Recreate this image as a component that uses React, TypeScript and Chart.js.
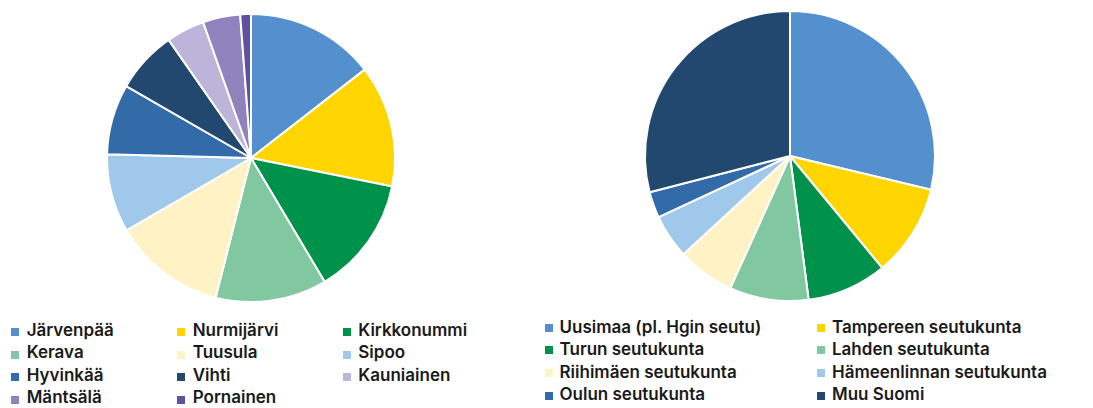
import React, { useEffect, useRef } from "react";
import { Chart, registerables } from "chart.js";

Chart.register(...registerables);

const leftLabels = ["Järvenpää", "Nurmijärvi", "Kirkkonummi", "Kerava", "Tuusula", "Sipoo", "Hyvinkää", "Vihti", "Kauniainen", "Mäntsälä", "Pornainen"];
const leftValues = [14.5, 13.7, 13.3, 12.5, 12.7, 8.8, 7.9, 7.0, 4.3, 4.2, 1.2];
const leftColors = ["#5490CD", "#FFD500", "#00924A", "#81C8A0", "#FFF3C6", "#9FC8EA", "#326BA8", "#22486F", "#BCB4D9", "#8E83BD", "#5E519F"];

const rightLabels = ["Uusimaa (pl. Hgin seutu)", "Tampereen seutukunta", "Turun seutukunta", "Lahden seutukunta", "Riihimäen seutukunta", "Hämeenlinnan seutukunta", "Oulun seutukunta", "Muu Suomi"];
const rightValues = [28.7, 10.3, 8.9, 8.8, 6.4, 4.9, 2.9, 29.0];
const rightColors = ["#5490CD", "#FFD500", "#00924A", "#81C8A0", "#FFF3C6", "#9FC8EA", "#326BA8", "#22486F"];

const FONT = "Inter, 'Noto Sans', sans-serif";

function Pie({ labels, values, colors, left, top, size, radius }: any) {
  const ref = useRef<HTMLCanvasElement>(null);
  useEffect(() => {
    const chart = new Chart(ref.current!, {
      type: "pie",
      data: {
        labels,
        datasets: [
          {
            data: values,
            backgroundColor: colors,
            borderColor: "#ffffff",
            borderWidth: 2,
            radius,
          } as any,
        ],
      },
      options: {
        animation: false,
        responsive: false,
        maintainAspectRatio: false,
        layout: { padding: 0 },
        plugins: { legend: { display: false }, tooltip: { enabled: false } },
      },
    });
    return () => chart.destroy();
  }, []);
  return (
    <canvas
      ref={ref}
      width={size}
      height={size}
      style={{ position: "absolute", left, top, width: size, height: size }}
    />
  );
}

function Legend({ labels, colors, cols, boxX, textX, baselines, boxOffset }: any) {
  const fontSize = 17;
  const lineH = 22;
  const baseOff = (lineH - 1.21 * fontSize) / 2 + 0.969 * fontSize;
  return (
    <>
      {labels.map((lab: string, i: number) => {
        const c = i % cols;
        const r = Math.floor(i / cols);
        const b = baselines[r];
        return (
          <React.Fragment key={lab}>
            <div
              style={{
                position: "absolute",
                left: boxX[c],
                top: b - boxOffset,
                width: 8,
                height: 8,
                background: colors[i],
              }}
            />
            <div
              style={{
                position: "absolute",
                left: textX[c],
                top: b - baseOff,
                fontFamily: FONT,
                fontSize,
                fontWeight: 600,
                lineHeight: lineH + "px",
                color: "#1a1a1a",
                whiteSpace: "nowrap",
              }}
            >
              {lab}
            </div>
          </React.Fragment>
        );
      })}
    </>
  );
}

export default function App() {
  return (
    <div style={{ position: "absolute", left: 0, top: 0, width: 1093, height: 408, background: "#fff", overflow: "hidden" }}>
      <Pie labels={leftLabels} values={leftValues} colors={leftColors} left={101} top={8} size={300} radius={144} />
      <Pie labels={rightLabels} values={rightValues} colors={rightColors} left={640} top={6} size={300} radius={145} />
      <Legend
        labels={leftLabels}
        colors={leftColors}
        cols={3}
        boxX={[11, 177, 343]}
        textX={[26.7, 192.7, 358.3]}
        baselines={[336, 358.5, 381, 403.5]}
        boxOffset={8}
      />
      <Legend
        labels={rightLabels}
        colors={rightColors}
        cols={2}
        boxX={[545, 817]}
        textX={[559.5, 832]}
        baselines={[332.7, 355, 378, 400.5]}
        boxOffset={9}
      />
    </div>
  );
}
